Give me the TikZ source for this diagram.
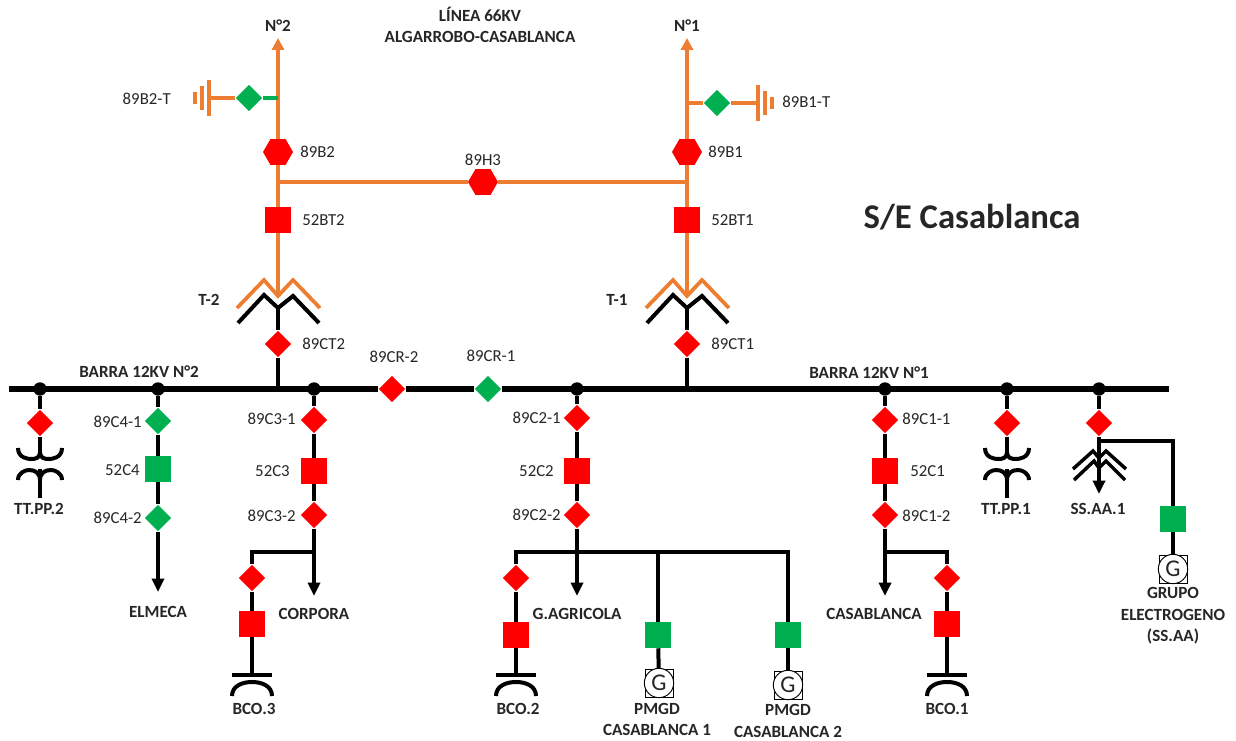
\documentclass[tikz,border=0pt]{standalone}
\usepackage{fontspec}
\setmainfont{Carlito}
\usetikzlibrary{shapes.geometric, arrows.meta}
\definecolor{lineorange}{HTML}{ED7D31}
\definecolor{swgreen}{HTML}{00B050}
\definecolor{swred}{HTML}{FF0000}
\definecolor{txtgrey}{HTML}{262626}
\tikzset{
  every pic/.style={yscale=-1},
  lineo/.style={draw=lineorange, line width=2.8pt},
  lineb/.style={draw=black, line width=3pt},
  lineg/.style={draw=swgreen, line width=2.8pt},
  busbar/.style={draw=black, line width=4.6pt},
  tipo/.style={-{Triangle[width=9pt,length=9pt]}},
  tipb/.style={-{Triangle[width=9pt,length=10pt]}},
  sec/.style={diamond, fill=#1, inner sep=0pt, minimum width=20pt, minimum height=20pt},
  brk/.style={rectangle, fill=#1, inner sep=0pt, minimum size=19.5pt},
  hexa/.style={regular polygon, regular polygon sides=6, fill=swred, inner sep=0pt, minimum size=22.5pt},
  busdot/.style={circle, fill=black, inner sep=0pt, minimum size=10pt},
  genbox/.style={rectangle, draw=black, line width=0.7pt, inner sep=0pt, minimum size=21pt},
  gencirc/.style={circle, draw=black, fill=white, line width=0.7pt, inner sep=0pt, minimum size=22pt, font=\fontsize{18}{18}\selectfont, text=txtgrey},
  lbl/.style={inner sep=0pt, text=txtgrey, font=\fontsize{12.6}{15}\selectfont},
  lblb/.style={inner sep=0pt, text=txtgrey, font=\fontsize{12.8}{15}\selectfont\bfseries},
  trafo/.pic={
    \draw[lineo] (-41,12) -- (-14,-16) -- (0,0) -- (15,-16) -- (42,12);
    \draw[lineb] (-40,27) -- (-14,-1) -- (0,12) -- (15,0) -- (41,27);
  },
  ttpp/.pic={
    \draw[lineb] (-22,-5) .. controls (-22,5) and (-12,6) .. (-9,6) .. controls (-4,6) and (0,5) .. (0,-1) .. controls (0,5) and (4,6) .. (9,6) .. controls (12,6) and (22,5) .. (22,-5);
    \draw[lineb] (-22,27) .. controls (-22,20) and (-15,17) .. (-11,17) .. controls (-5,17) and (0,20) .. (0,27) .. controls (0,20) and (5,17) .. (11,17) .. controls (15,17) and (22,20) .. (22,27);
    \draw[lineb] (0,16) -- (0,45);
  },
  bco/.pic={
    \draw[lineb] (-20,0) -- (20,0);
    \draw[lineb] (-20,21) .. controls (-20,11) and (-10,7) .. (0,7) .. controls (10,7) and (20,11) .. (20,21);
  },
  gnd/.pic={
    \draw[lineo] (0,-18) -- (0,18);
    \draw[lineo] (-7,-12) -- (-7,12);
    \draw[lineo] (-14,-6) -- (-14,6);
  }
}
\begin{document}
\begin{tikzpicture}[x=0.75pt,y=0.75pt,yscale=-1,xscale=1]
\useasboundingbox (0,0) rectangle (1236,741);

%Bus dots and free ends
\node[busdot] (dotA) at (40,389) {};
\node[busdot] (dotB) at (158,389) {};
\node[busdot] (dotC) at (314,389) {};
\node[busdot] (dotD) at (577,389) {};
\node[busdot] (dotE) at (885,389) {};
\node[busdot] (dotF) at (1007,389) {};
\node[busdot] (dotG) at (1099,389) {};
\coordinate (busL) at (9,389);
\coordinate (busR) at (1169,389);
\coordinate (busT2) at (278,389);
\coordinate (busT1) at (687,389);

%Line N2
\coordinate (topN2) at (278,38);
\coordinate (jctGndN2) at (278,98);
\coordinate (jctH2) at (278,182);
\coordinate (hvT2) at (278,296);
\coordinate (lvT2) at (278,308);
\coordinate (gndN2) at (209,98);
\node[sec=swgreen] (sw89B2T) at (249,98) {};
\node[hexa] (sw89B2) at (278,152) {};
\node[brk=swred] (br52BT2) at (278,220) {};
\node[sec=swred] (sw89CT2) at (278,344) {};
%Line N1
\coordinate (topN1) at (687,38);
\coordinate (jctGndN1) at (687,103);
\coordinate (jctH1) at (687,182);
\coordinate (hvT1) at (687,296);
\coordinate (lvT1) at (687,308);
\coordinate (gndN1) at (758,103);
\node[sec=swgreen] (sw89B1T) at (717,103) {};
\node[hexa] (sw89B1) at (687,152) {};
\node[brk=swred] (br52BT1) at (687,220) {};
\node[sec=swred] (sw89CT1) at (687,344) {};
\node[hexa] (sw89H3) at (483,182) {};

\draw[lineo,tipo] (sw89B2) -- (topN2);
\draw[lineo] (gndN2) -- (sw89B2T);
\draw[lineg] (sw89B2T) -- (jctGndN2);
\draw[lineo] (sw89B2) -- (br52BT2);
\draw[lineo] (br52BT2) -- (hvT2);
\draw[lineb] (lvT2) -- (sw89CT2);
\draw[lineb] (sw89CT2) -- (busT2);
\draw[lineo,tipo] (sw89B1) -- (topN1);
\draw[lineo] (jctGndN1) -- (sw89B1T);
\draw[lineo] (sw89B1T) -- (gndN1);
\draw[lineo] (sw89B1) -- (br52BT1);
\draw[lineo] (br52BT1) -- (hvT1);
\draw[lineb] (lvT1) -- (sw89CT1);
\draw[lineb] (sw89CT1) -- (busT1);
\draw[lineo] (jctH2) -- (sw89H3);
\draw[lineo] (sw89H3) -- (jctH1);
\pic at (gndN2) [xscale=1] {gnd};
\pic at (gndN1) [xscale=-1] {gnd};
\pic at (hvT2) {trafo};
\pic at (hvT1) {trafo};

%Main bus
\node[sec=swred] (sw89CR2) at (392,389) {};
\node[sec=swgreen] (sw89CR1) at (488,389) {};
\draw[busbar] (busL) -- (sw89CR2);
\draw[busbar] (sw89CR2) -- (sw89CR1);
\draw[busbar] (sw89CR1) -- (busR);

%TT.PP.2
\node[sec=swred] (swTP2) at (40,423) {};
\coordinate (tp2) at (40,453);
\draw[lineb] (dotA) -- (swTP2);
\draw[lineb] (swTP2) -- (tp2);
\pic at (tp2) {ttpp};

%Feeder C4
\node[sec=swgreen] (sw89C41) at (158,421) {};
\node[brk=swgreen] (br52C4) at (158,469) {};
\node[sec=swgreen] (sw89C42) at (158,518) {};
\coordinate (endC4) at (158,592);
\draw[lineb] (dotB) -- (sw89C41);
\draw[lineb] (sw89C41) -- (br52C4);
\draw[lineb] (br52C4) -- (sw89C42);
\draw[lineb,tipb] (sw89C42) -- (endC4);

%Feeder C3
\node[sec=swred] (sw89C31) at (314,420) {};
\node[brk=swred] (br52C3) at (314,471) {};
\node[sec=swred] (sw89C32) at (314,515) {};
\coordinate (endC3) at (314,596);
\coordinate (jctC3) at (314,552);
\node[sec=swred] (swB3) at (252,578) {};
\node[brk=swred] (brB3) at (252,624) {};
\coordinate (bco3) at (252,675);
\draw[lineb] (dotC) -- (sw89C31);
\draw[lineb] (sw89C31) -- (br52C3);
\draw[lineb] (br52C3) -- (sw89C32);
\draw[lineb,tipb] (sw89C32) -- (endC3);
\draw[lineb] (jctC3) -| (swB3);
\draw[lineb] (swB3) -- (brB3);
\draw[lineb] (brB3) -- (bco3);
\pic at (bco3) {bco};

%Feeder C2
\node[sec=swred] (sw89C21) at (577,418) {};
\node[brk=swred] (br52C2) at (577,471) {};
\node[sec=swred] (sw89C22) at (577,515) {};
\coordinate (endC2) at (577,596);
\coordinate (jctC2) at (577,552);
\coordinate (jctP1) at (658,552);
\node[sec=swred] (swB2) at (516,578) {};
\node[brk=swred] (brB2) at (516,635) {};
\coordinate (bco2) at (516,675);
\node[brk=swgreen] (brP1) at (658,635) {};
\node[genbox] (boxP1) at (659,683) {};
\node[gencirc] (genP1) at (659,683) {G};
\node[brk=swgreen] (brP2) at (788,635) {};
\node[genbox] (boxP2) at (788,685) {};
\node[gencirc] (genP2) at (788,685) {G};
\draw[lineb] (dotD) -- (sw89C21);
\draw[lineb] (sw89C21) -- (br52C2);
\draw[lineb] (br52C2) -- (sw89C22);
\draw[lineb,tipb] (sw89C22) -- (endC2);
\draw[lineb] (jctC2) -| (swB2);
\draw[lineb] (swB2) -- (brB2);
\draw[lineb] (brB2) -- (bco2);
\draw[lineb] (jctC2) -| (brP2);
\draw[lineb] (jctP1) -- (brP1);
\draw[lineb] (brP1) -- (boxP1);
\draw[lineb] (brP2) -- (boxP2);
\pic at (bco2) {bco};

%Feeder C1
\node[sec=swred] (sw89C11) at (885,420) {};
\node[brk=swred] (br52C1) at (885,471) {};
\node[sec=swred] (sw89C12) at (885,515) {};
\coordinate (endC1) at (885,596);
\coordinate (jctC1) at (885,552);
\node[sec=swred] (swB1) at (947,578) {};
\node[brk=swred] (brB1) at (947,624) {};
\coordinate (bco1) at (947,675);
\draw[lineb] (dotE) -- (sw89C11);
\draw[lineb] (sw89C11) -- (br52C1);
\draw[lineb] (br52C1) -- (sw89C12);
\draw[lineb,tipb] (sw89C12) -- (endC1);
\draw[lineb] (jctC1) -| (swB1);
\draw[lineb] (swB1) -- (brB1);
\draw[lineb] (brB1) -- (bco1);
\pic at (bco1) {bco};

%TT.PP.1
\node[sec=swred] (swTP1) at (1007,423) {};
\coordinate (tp1) at (1007,453);
\draw[lineb] (dotF) -- (swTP1);
\draw[lineb] (swTP1) -- (tp1);
\pic at (tp1) {ttpp};

%SS.AA.1
\node[sec=swred] (swSA) at (1099,423) {};
\coordinate (endSA) at (1099,494);
\coordinate (jctSA) at (1099,441);
\node[brk=swgreen] (brGE) at (1173,519) {};
\node[genbox] (boxGE) at (1173,569) {};
\node[gencirc] (genGE) at (1173,569) {G};
\draw[lineb] (dotG) -- (swSA);
\draw[lineb,tipb] (swSA) -- (endSA);
\draw[lineb] (jctSA) -| (brGE);
\draw[lineb] (brGE) -- (boxGE);
\draw[draw=black, line width=2.6pt] (1073,469) -- (1093,451) -- (1099,458) -- (1106,451) -- (1126,469);
\draw[draw=black, line width=2.6pt] (1074,480) -- (1094,461) -- (1099,468) -- (1106,461) -- (1125,480);

% Text Node
\node[lblb] (txtN2) at (278,26) {N°2};
\node[lblb] (txtN1) at (687,26) {N°1};
\node[lblb] (txtLine) at (480,25) [align=center] {LÍNEA 66KV\\[1pt]ALGARROBO-CASABLANCA};
\node[inner sep=0pt, text=txtgrey, font=\fontsize{26}{30}\selectfont\bfseries] (txtTitle) at (972,217) {S/E Casablanca};
\node[lbl, anchor=east] (txt89B2T) at (171,99) {89B2-T};
\node[lbl, anchor=west] (txt89B2) at (300,152) {89B2};
\node[lbl] (txt89H3) at (483,160) {89H3};
\node[lbl, anchor=west] (txt52BT2) at (302,220) {52BT2};
\node[lblb] (txtT2) at (209,300) {T-2};
\node[lbl, anchor=west] (txt89CT2) at (302,344) {89CT2};
\node[lbl, anchor=west] (txt89B1T) at (782,102) {89B1-T};
\node[lbl, anchor=west] (txt89B1) at (708,152) {89B1};
\node[lbl, anchor=west] (txt52BT1) at (711,220) {52BT1};
\node[lblb] (txtT1) at (617,300) {T-1};
\node[lbl, anchor=west] (txt89CT1) at (711,344) {89CT1};
\node[lbl] (txt89CR2) at (394,357) {89CR-2};
\node[lbl] (txt89CR1) at (491,356) {89CR-1};
\node[lblb] (txtBarra2) at (139,372) {BARRA 12KV N°2};
\node[lblb] (txtBarra1) at (869,373) {BARRA 12KV N°1};
\node[lblb] (txtTP2) at (39,509) {TT.PP.2};
\node[lbl, anchor=east] (txt89C41) at (142,422) {89C4-1};
\node[lbl, anchor=east] (txt52C4) at (140,470) {52C4};
\node[lbl, anchor=east] (txt89C42) at (142,518) {89C4-2};
\node[lblb] (txtElmeca) at (158,612) {ELMECA};
\node[lbl, anchor=east] (txt89C31) at (296,419) {89C3-1};
\node[lbl, anchor=east] (txt52C3) at (290,471) {52C3};
\node[lbl, anchor=east] (txt89C32) at (296,516) {89C3-2};
\node[lblb] (txtCorpora) at (314,614) {CORPORA};
\node[lblb] (txtB3) at (254,709) {BCO.3};
\node[lbl, anchor=east] (txt89C21) at (561,418) {89C2-1};
\node[lbl, anchor=east] (txt52C2) at (554,471) {52C2};
\node[lbl, anchor=east] (txt89C22) at (561,515) {89C2-2};
\node[lblb] (txtAgricola) at (577,614) {G.AGRICOLA};
\node[lblb] (txtB2) at (518,709) {BCO.2};
\node[lblb] (txtP1) at (657,719.5) [align=center] {PMGD\\[1pt]CASABLANCA 1};
\node[lblb] (txtP2) at (788,721) [align=center] {PMGD\\[1pt]CASABLANCA 2};
\node[lbl, anchor=west] (txt89C11) at (902,419) {89C1-1};
\node[lbl, anchor=west] (txt52C1) at (910,471) {52C1};
\node[lbl, anchor=west] (txt89C12) at (902,516) {89C1-2};
\node[lblb] (txtCasab) at (874,614) {CASABLANCA};
\node[lblb] (txtB1) at (947,709) {BCO.1};
\node[lblb] (txtTP1) at (1006,509) {TT.PP.1};
\node[lblb] (txtSA) at (1098,509) {SS.AA.1};
\node[lblb] (txtGE) at (1173,616) [align=center] {GRUPO\\[1pt]ELECTROGENO\\[1pt](SS.AA)};

\end{tikzpicture}
\end{document}
